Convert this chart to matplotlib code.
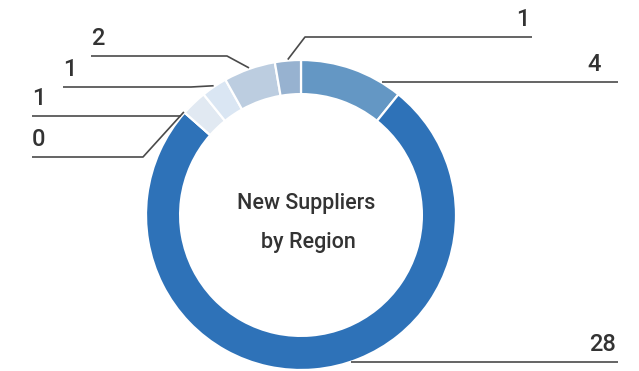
import numpy as np
import matplotlib.pyplot as plt

# Supplier counts, clockwise from 12 o'clock
counts = [4, 28, 0, 1, 1, 2, 1]
colors = ['#6497c4', '#2e72b8', '#2e72b8', '#e1e9f2', '#dae6f3', '#bccde0', '#97b2d0']
labels = [str(c) for c in counts]

W, H = 639, 371
fig = plt.figure(figsize=(W / 100, H / 100), dpi=100)
ax = fig.add_axes([0, 0, 1, 1])

cx, cy, R = 301, 371 - 215, 155
ring = 0.22

wedges, _ = ax.pie(counts, colors=colors, startangle=90, counterclock=False,
                   radius=R, center=(cx, cy), frame=True,
                   wedgeprops=dict(width=R * ring, edgecolor='white', linewidth=1.6))
ax.set_xlim(0, W)
ax.set_ylim(0, H)
ax.set_aspect('equal')
ax.axis('off')

# leader lines: (line y in px from top, elbow x or None, line start x, line end x, text x, align)
lead = [
    (82, None, None, 618, 601, 'right'),
    (362, None, None, 618, 616, 'right'),
    (157, 143, 32, None, 32, 'left'),
    (116, None, 32, None, 32, 'left'),
    (87, 191, 63, None, 63, 'left'),
    (56, 227, 91, None, 91, 'left'),
    (37, 305, None, 532, 529, 'right'),
]

lc = '#4a4a4a'
tc = '#333333'
for w, lab, (ly, ex, x0, x1, tx, ha) in zip(wedges, labels, lead):
    ang = np.deg2rad((w.theta1 + w.theta2) / 2)
    yl = H - ly
    if ex is None:
        # horizontal line that starts at the ring's outer edge
        dx = np.sqrt(max(R ** 2 - (yl - cy) ** 2, 0)) + 1
        ax_ = cx + np.sign(np.cos(ang)) * dx
        xs = [ax_, x1] if x1 is not None else [x0, ax_]
        ax.plot(xs, [yl, yl], color=lc, lw=1.2, solid_capstyle='butt')
    else:
        px = cx + (R + 1) * np.cos(ang)
        py = cy + (R + 1) * np.sin(ang)
        far = x1 if x1 is not None else x0
        ax.plot([px, ex, far], [py, yl, yl], color=lc, lw=1.2, solid_capstyle='butt')
    ax.text(tx, yl + 6, lab, ha=ha, va='bottom', fontsize=17,
            family='Roboto', fontweight='medium', color=tc)

ax.text(cx + 5, H - 209, 'New Suppliers', ha='center', va='baseline',
        fontsize=15.5, family='Roboto', fontweight='medium', color=tc)
ax.text(cx + 7, H - 248, 'by Region', ha='center', va='baseline',
        fontsize=15.5, family='Roboto', fontweight='medium', color=tc)

fig.savefig('out.png', dpi=100)
